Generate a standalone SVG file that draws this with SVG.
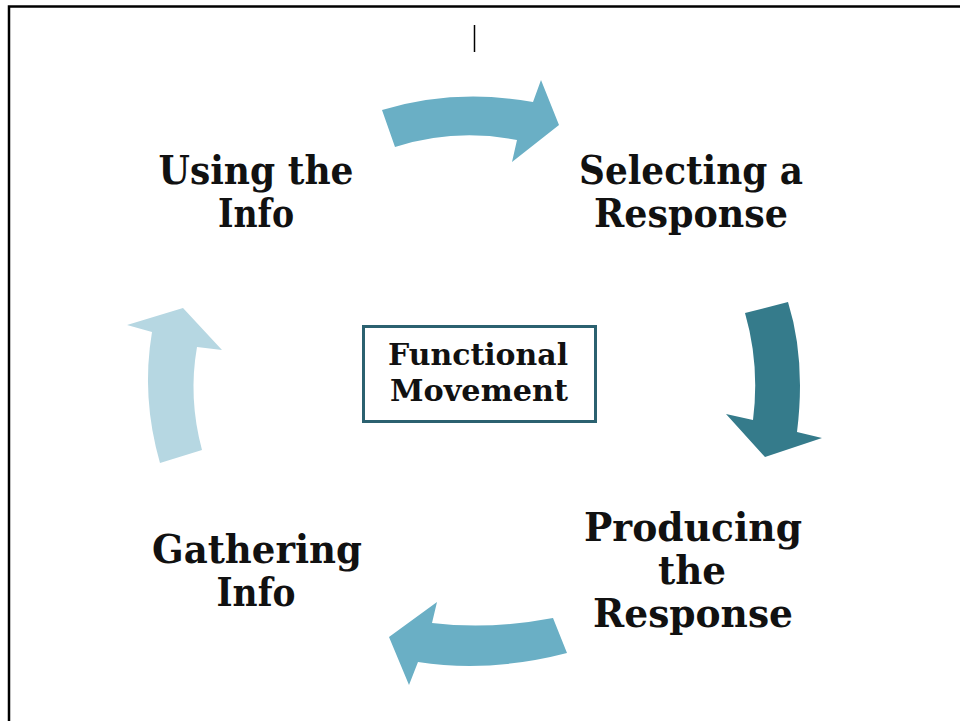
<svg xmlns="http://www.w3.org/2000/svg" width="960" height="721" viewBox="0 0 960 721">
<style>
.lbl{font-family:"DejaVu Serif","Liberation Serif",serif;font-weight:bold;font-size:40px;fill:#111;text-anchor:middle}
.box{font-family:"DejaVu Serif","Liberation Serif",serif;font-weight:bold;font-size:29px;fill:#111;text-anchor:middle}
.mid{fill:#6AAFC5}
.dark{fill:#357B8B}
.light{fill:#B6D7E2}
</style>
<rect width="960" height="721" fill="#fff"/>
<g id="frame" fill="none" stroke="#000" stroke-width="2.5">
<path d="M9,721 V6.5 H960"/>
<line x1="474.5" y1="25" x2="474.5" y2="52" stroke-width="1.5"/>
</g>
<g id="connectors">
<path class="mid" d="M382,110 Q455,88 533,102 L541,80 L559,125 L512,162 L517,140 Q455,128 395,147 Z"/>
<path class="dark" d="M745,313 L788,302 Q806,360 797,432 L822,438 L765,457 L726,414 L753,420 Q760,365 745,313 Z"/>
<path class="mid" d="M553,618 Q490,630 432,623 L437,602 L389,637 L409,685 L418,662 Q490,673 567,653 Z"/>
<path class="light" d="M160,463 L202,450 Q188,398 197,347 L222,350 L183,308 L127,325 L152,332 Q141,397 160,463 Z"/>
</g>
<g id="using">
<text class="lbl" x="256" y="184" textLength="195" lengthAdjust="spacingAndGlyphs">Using the</text>
<text class="lbl" x="256" y="227" textLength="76" lengthAdjust="spacingAndGlyphs">Info</text>
</g>
<g id="selecting">
<text class="lbl" x="691" y="184" textLength="224" lengthAdjust="spacingAndGlyphs">Selecting a</text>
<text class="lbl" x="691" y="227" textLength="194" lengthAdjust="spacingAndGlyphs">Response</text>
</g>
<g id="producing">
<text class="lbl" x="693" y="541" textLength="218" lengthAdjust="spacingAndGlyphs">Producing</text>
<text class="lbl" x="692" y="584" textLength="68" lengthAdjust="spacingAndGlyphs">the</text>
<text class="lbl" x="693" y="627" textLength="200" lengthAdjust="spacingAndGlyphs">Response</text>
</g>
<g id="gathering">
<text class="lbl" x="257" y="563" textLength="210" lengthAdjust="spacingAndGlyphs">Gathering</text>
<text class="lbl" x="256" y="606" textLength="79" lengthAdjust="spacingAndGlyphs">Info</text>
</g>
<g id="center">
<rect x="363.5" y="326.5" width="232" height="95" fill="#fff" stroke="#2B6170" stroke-width="3"/>
<text class="box" x="478" y="365" textLength="180" lengthAdjust="spacingAndGlyphs">Functional</text>
<text class="box" x="479" y="401" textLength="178" lengthAdjust="spacingAndGlyphs">Movement</text>
</g>
</svg>
